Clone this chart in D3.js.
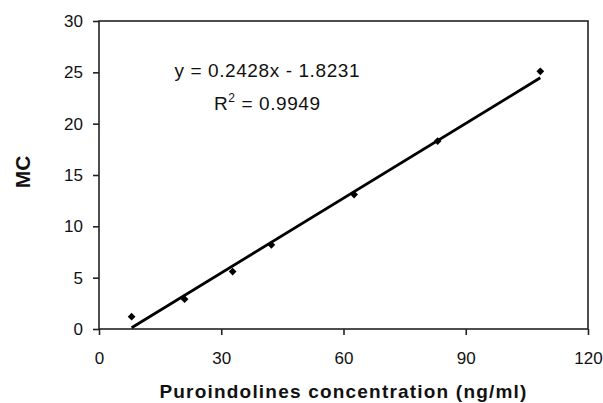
<!DOCTYPE html>
<html>
<head>
<meta charset="utf-8">
<script src="https://cdn.jsdelivr.net/npm/d3@7"></script>
<style>
  body { margin: 0; background: #fff; }
  svg text { font-family: 'Liberation Sans', Arial, sans-serif; fill: #111; }
  .axis path, .axis line { stroke: #222; stroke-width: 1.6; }
  .axis text { font-size: 17px; }
</style>
</head>
<body>
<script>
  // data
  var conc = [8, 21, 32.8, 42.3, 62.6, 83.1, 108.3];
  var mc = [1.2, 2.9, 5.6, 8.2, 13.1, 18.3, 25.1];
  var xTicks = [0, 30, 60, 90, 120];
  var yTicks = [0, 5, 10, 15, 20, 25, 30];
  var slope = 0.2428, intercept = -1.8231;
  var eqLabel = 'y = 0.2428x - 1.8231';
  var r2Value = '0.9949';

  var m = { top: 21, right: 15, bottom: 74, left: 99 };
  var W = 603, H = 403;
  var w = W - m.left - m.right, h = H - m.top - m.bottom;

  var svg = d3.select('body').append('svg')
    .attr('width', W).attr('height', H);
  var g = svg.append('g').attr('transform', `translate(${m.left},${m.top})`);

  var x = d3.scaleLinear().domain([0, 120]).range([0, w]);
  var y = d3.scaleLinear().domain([0, 30]).range([h, 0]);

  // box (top and right)
  g.append('rect')
    .attr('width', w).attr('height', h)
    .attr('fill', 'none').attr('stroke', '#222').attr('stroke-width', 1.6);

  g.append('g').attr('class', 'axis')
    .attr('transform', `translate(0,${h})`)
    .call(d3.axisBottom(x).tickValues(xTicks).tickSize(6).tickPadding(17).tickSizeOuter(0))
    .call(a => a.select('.domain').remove());

  g.append('g').attr('class', 'axis')
    .call(d3.axisLeft(y).tickValues(yTicks).tickSize(6).tickPadding(10).tickSizeOuter(0))
    .call(a => a.select('.domain').remove());

  // trend line
  var xs = d3.extent(conc);
  g.append('line')
    .attr('x1', x(xs[0])).attr('y1', y(slope * xs[0] + intercept))
    .attr('x2', x(xs[1])).attr('y2', y(slope * xs[1] + intercept))
    .attr('stroke', '#000').attr('stroke-width', 2.8);

  // points
  g.selectAll('.pt')
    .data(conc)
    .enter().append('path')
    .attr('class', 'pt')
    .attr('d', d3.symbol().type(d3.symbolSquare).size(30))
    .attr('transform', (d, i) => `translate(${x(d)},${y(mc[i])}) rotate(45)`)
    .attr('fill', '#000');

  // equation
  g.append('text')
    .attr('x', x(41.3)).attr('y', 56)
    .attr('text-anchor', 'middle')
    .style('font-size', '19px').style('letter-spacing', '0.6px')
    .text(eqLabel);

  var r2 = g.append('text')
    .attr('x', x(41.3)).attr('y', 89)
    .attr('text-anchor', 'middle')
    .style('font-size', '19px').style('letter-spacing', '0.6px');
  r2.append('tspan').text('R');
  r2.append('tspan').attr('dy', -8).style('font-size', '12px').text('2');
  r2.append('tspan').attr('dy', 8).text(' = ' + r2Value);

  // axis titles
  svg.append('text')
    .attr('x', m.left + w / 2).attr('y', 398)
    .attr('text-anchor', 'middle')
    .style('font-size', '19px').style('font-weight', 'bold').style('letter-spacing', '1.2px')
    .text('Puroindolines concentration (ng/ml)');

  svg.append('text')
    .attr('transform', `translate(30,172) rotate(-90)`)
    .attr('text-anchor', 'middle')
    .style('font-size', '21px').style('font-weight', 'bold')
    .text('MC');
</script>
</body>
</html>
